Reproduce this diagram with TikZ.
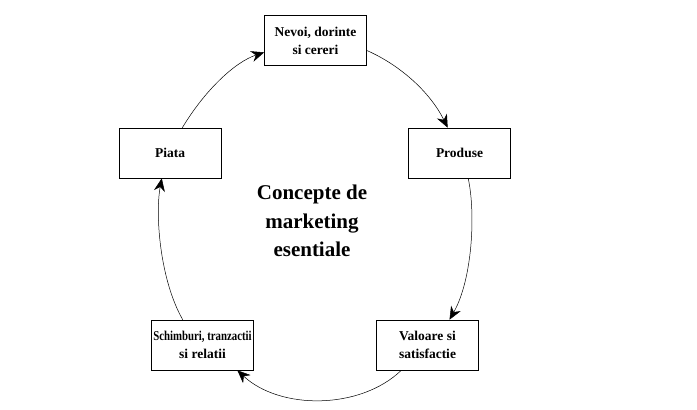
\documentclass[tikz,border=0pt]{standalone}
\usepackage{fontspec}
\setmainfont{Liberation Serif}
\usetikzlibrary{arrows.meta}

\begin{document}
\begin{tikzpicture}[x=1pt,y=-1pt,
  conceptbox/.style={draw,line width=0.6pt,minimum width=102pt,minimum height=50pt,inner sep=1pt,align=center,
    font=\fontsize{13.5}{18}\selectfont\bfseries},
  cycarrow/.style={line width=0.5pt,-{Stealth[length=13pt,width=11pt]}}]
\useasboundingbox (0,0) rectangle (697,410);

% Boxes
\node[conceptbox] (nevoi) at (315.5,40.5) {Nevoi, dorinte\\si cereri};
\node[conceptbox] (produse) at (459.5,153) {Produse};
\node[conceptbox] (valoare) at (427.5,345) {Valoare si\\satisfactie};
\node[conceptbox] (schimburi) at (202.5,345) {\scalebox{0.8}[1]{Schimburi, tranzactii}\\si relatii};
\node[conceptbox] (piata) at (170,153) {Piata};

% Text Node
\node[align=center,font=\fontsize{21}{28.5}\selectfont\bfseries] (concepte) at (312,221) {Concepte de\\marketing\\esentiale};

% Curved arrows
\draw[cycarrow] (nevoi.-11) .. controls (400,65) and (430,92) .. (produse.115);
\draw[cycarrow] (produse.-71) .. controls (476,215) and (472,280) .. (valoare.49);
\draw[cycarrow] (valoare.-136) .. controls (360,410) and (280,410) .. (schimburi.-36);
\draw[cycarrow] (schimburi.128) .. controls (160,280) and (155,215) .. (piata.-108);
\draw[cycarrow] (piata.64) .. controls (205,90) and (235,62) .. (nevoi.-167);

\end{tikzpicture}
\end{document}
